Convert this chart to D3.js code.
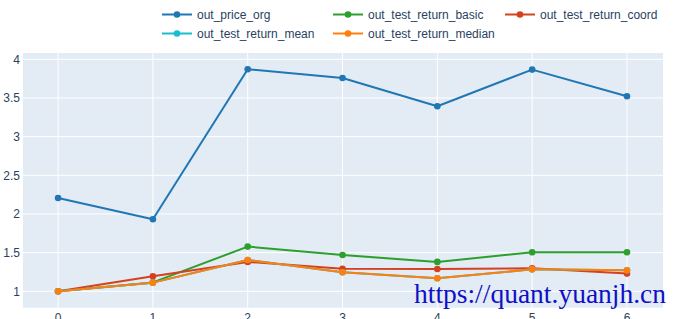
<!DOCTYPE html>
<html lang="en">
<head>
    <meta charset="UTF-8">
    <title>out_price_org vs test returns</title>
    <script src="https://d3js.org/d3.v7.min.js"></script>
    <style>
        body { margin: 0; background: #fff; }
        svg { display: block; font-family: "Liberation Sans", Arial, sans-serif; }
    </style>
</head>
<body>
    <div id="chart"></div>
    <script>
        const xValues = [0, 1, 2, 3, 4, 5, 6];
        const seriesNames = ["out_price_org", "out_test_return_basic", "out_test_return_coord", "out_test_return_mean", "out_test_return_median"];
        const priceOrg = [2.207, 1.932, 3.872, 3.759, 3.393, 3.867, 3.523];
        const returnBasic = [1.0, 1.115, 1.578, 1.470, 1.380, 1.505, 1.505];
        const returnCoord = [1.0, 1.194, 1.380, 1.292, 1.288, 1.298, 1.229];
        const returnMean = [1.0, 1.112, 1.405, 1.246, 1.168, 1.284, 1.272];
        const returnMedian = [1.0, 1.112, 1.405, 1.246, 1.168, 1.284, 1.272];
        const yTicks = [1, 1.5, 2, 2.5, 3, 3.5, 4];
        const colors = ["#1f77b4", "#2ca02c", "#d4411e", "#17becf", "#ff7f0e"];

        const series = [priceOrg, returnBasic, returnCoord, returnMean, returnMedian]
            .map((values, i) => ({ name: seriesNames[i], color: colors[i], values }));

        const width = 678;
        const height = 319;
        const plot = { left: 23, right: 663, top: 53, bottom: 307.7 };

        const svg = d3.select("#chart")
            .append("svg")
            .attr("width", width)
            .attr("height", height);

        const x = d3.scaleLinear()
            .domain([-0.37, 6.38])
            .range([plot.left, plot.right]);

        const y = d3.scaleLinear()
            .domain([0.788, 4.0815])
            .range([plot.bottom, plot.top]);

        // plot background
        svg.append("rect")
            .attr("x", plot.left)
            .attr("y", plot.top)
            .attr("width", plot.right - plot.left)
            .attr("height", plot.bottom - plot.top)
            .attr("fill", "#e3ebf5");

        // grid lines
        svg.selectAll(".xgrid")
            .data(xValues)
            .join("line")
            .attr("x1", d => x(d))
            .attr("x2", d => x(d))
            .attr("y1", plot.top)
            .attr("y2", plot.bottom)
            .attr("stroke", "#fff")
            .attr("stroke-width", 1);

        svg.selectAll(".ygrid")
            .data(yTicks)
            .join("line")
            .attr("x1", plot.left)
            .attr("x2", plot.right)
            .attr("y1", d => y(d))
            .attr("y2", d => y(d))
            .attr("stroke", "#fff")
            .attr("stroke-width", 1);

        // tick labels
        svg.selectAll(".ylabel")
            .data(yTicks)
            .join("text")
            .attr("x", 20)
            .attr("y", d => y(d))
            .attr("dy", "0.36em")
            .attr("text-anchor", "end")
            .attr("font-size", 12)
            .attr("fill", "#2a3f5f")
            .text(d => d);

        svg.selectAll(".xlabel")
            .data(xValues)
            .join("text")
            .attr("x", d => x(d))
            .attr("y", 322)
            .attr("text-anchor", "middle")
            .attr("font-size", 12)
            .attr("fill", "#2a3f5f")
            .text(d => d);

        // lines + markers
        const line = d3.line()
            .x((d, i) => x(xValues[i]))
            .y(d => y(d));

        const g = svg.selectAll(".series")
            .data(series)
            .join("g");

        g.append("path")
            .attr("d", d => line(d.values))
            .attr("fill", "none")
            .attr("stroke", d => d.color)
            .attr("stroke-width", 2)
            .attr("stroke-linejoin", "round");

        g.selectAll("circle")
            .data(d => d.values.map(v => ({ v, color: d.color })))
            .join("circle")
            .attr("cx", (d, i) => x(xValues[i]))
            .attr("cy", d => y(d.v))
            .attr("r", 3.3)
            .attr("fill", d => d.color);

        // legend
        const legendPos = [[162, 14.5], [333, 14.5], [505, 14.5], [162, 33.5], [333, 33.5]];
        const legend = svg.selectAll(".legend")
            .data(series)
            .join("g")
            .attr("transform", (d, i) => `translate(${legendPos[i][0]},${legendPos[i][1]})`);

        legend.append("line")
            .attr("x1", 0)
            .attr("x2", 30)
            .attr("stroke", d => d.color)
            .attr("stroke-width", 2);

        legend.append("circle")
            .attr("cx", 15)
            .attr("r", 3.3)
            .attr("fill", d => d.color);

        legend.append("text")
            .attr("x", 35)
            .attr("dy", "0.36em")
            .attr("font-size", 12)
            .attr("fill", "#2a3f5f")
            .text(d => d.name);

        // watermark
        svg.append("text")
            .attr("x", 414)
            .attr("y", 303)
            .attr("font-family", "'Liberation Serif', 'Times New Roman', serif")
            .attr("font-size", 27.5)
            .attr("fill", "#0f0fc8")
            .text("https://quant.yuanjh.cn");
    </script>
</body>
</html>
